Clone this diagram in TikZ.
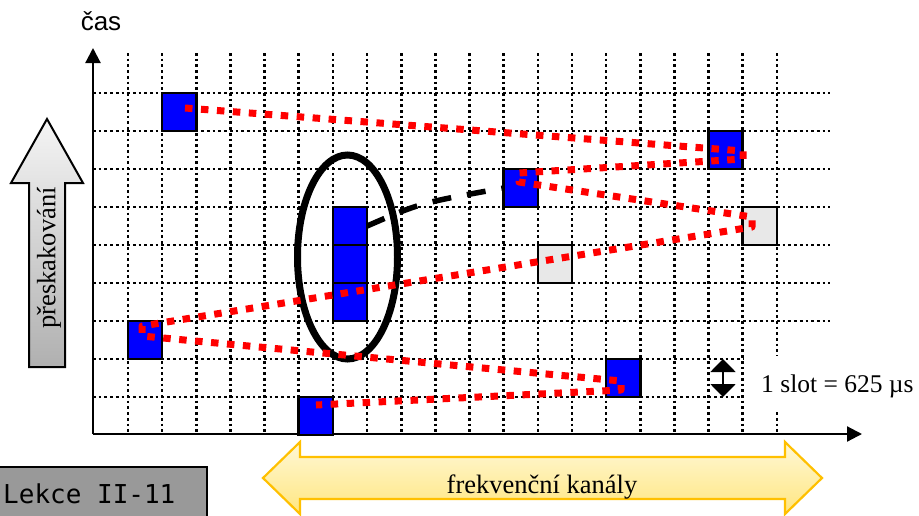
\documentclass[tikz,border=0pt]{standalone}
\usepackage{fontspec}
\setmainfont{Liberation Serif}
\newfontfamily\arialf{Liberation Sans}
\newfontfamily\monof{DejaVu Sans Mono}
\usetikzlibrary{arrows.meta}
\definecolor{cellgray}{HTML}{E8E8E8}
\definecolor{boxgray}{HTML}{999999}
\definecolor{arrowgold}{HTML}{FFC000}
\definecolor{ylight}{HTML}{FFF8D6}
\definecolor{ydark}{HTML}{FFE680}
\tikzset{
  griddot/.style={line width=2.6pt, dash pattern=on 2.7pt off 3pt},
  cellbox/.style={draw=black, line width=2.6pt, fill=blue, minimum width=34.15pt,
    minimum height=38pt, inner sep=0pt, outer sep=0pt, anchor=north west},
  graycell/.style={cellbox, fill=cellgray},
  hop/.style={draw=red, line width=7pt, dash pattern=on 7.5pt off 8.5pt, line join=round},
  axis/.style={line width=2.2pt, -{Triangle[length=15pt,width=15pt]}},
  bigtext/.style={font=\fontsize{26.5}{30}\selectfont, inner sep=0pt}
}
\begin{document}
\begin{tikzpicture}[x=1pt,y=-1pt]
\useasboundingbox (0,0) rectangle (919,515);
% grid
\foreach \i in {0,...,19} \draw[griddot] ({128+34.15*\i},53) -- ({128+34.15*\i},433);
\foreach \j in {0,...,8} \draw[griddot] (93,{93+38*\j}) -- (830,{93+38*\j});
% label box for slot
\fill[white] (743.5,356) rectangle (925,411);
% axes
\coordinate (o) at (93,434);
\coordinate (ytip) at (93,48);
\coordinate (xtip) at (862,434);
\draw[axis] (o) -- (ytip);
\draw[axis] (o) -- (xtip);
% cells
\node[cellbox] (A) at ({128+34.15*1},93) {};
\node[cellbox] (B) at ({128+34.15*17},131) {};
\node[cellbox] (C) at ({128+34.15*11},169) {};
\node[graycell] (D) at ({128+34.15*18},207) {};
\node[graycell] (E) at ({128+34.15*12},245) {};
\node[cellbox] (F1) at ({128+34.15*6},207) {};
\node[cellbox] (F2) at ({128+34.15*6},245) {};
\node[cellbox] (F3) at ({128+34.15*6},283) {};
\node[cellbox] (G) at ({128+34.15*0},321) {};
\node[cellbox] (H) at ({128+34.15*14},359) {};
\node[cellbox] (I) at ({128+34.15*5},397) {};
% ellipse
\draw[line width=7pt] (347.5,257) ellipse [x radius=50, y radius=102];
% dashed link
\draw[line width=5.5pt, dash pattern=on 19pt off 16pt] (F1.east) .. controls (420,203) .. (C.west);
% hopping path
\coordinate (a0) at (185,108);
\coordinate (b1) at (743,151);
\coordinate (b2) at (743,159);
\coordinate (c1) at (519,173);
\coordinate (c2) at (519,182);
\coordinate (d1) at (752,217);
\coordinate (d2) at (752,227);
\coordinate (g1) at (142,326);
\coordinate (g2) at (142,336);
\coordinate (h1) at (621,381);
\coordinate (h2) at (621,390);
\coordinate (i0) at (316,405);
\draw[hop] (a0) -- (b1) -- (b2) -- (c1) -- (c2) -- (d1) -- (d2) -- (g1) -- (g2) -- (h1) -- (h2) -- (i0);
% time label
\node[font=\arialf\fontsize{26}{30}\selectfont, anchor=base, inner sep=0pt] (cas) at (101,30) {čas};
% hopping arrow
\draw[line width=2pt, top color=gray!8, bottom color=gray!62]
  (47,119) -- (83,183) -- (65,183) -- (65,367) -- (29,367) -- (29,183) -- (11,183) -- cycle;
\node[bigtext, rotate=90] (hoptext) at (49,258) {přeskakování};
% frequency arrow
\draw[line width=2.2pt, draw=arrowgold, top color=ylight, bottom color=ydark]
  (263,478) -- (300,442) -- (300,457) -- (785,457) -- (785,442) -- (822,478)
  -- (785,514) -- (785,499) -- (300,499) -- (300,514) -- cycle;
\node[bigtext, anchor=base] (freq) at (542,493) {frekvenční kanály};
% slot marker
\coordinate (s1) at (723,359);
\coordinate (s2) at (723,397);
\draw[line width=2pt, {Triangle[length=13pt,width=25pt]}-{Triangle[length=13pt,width=25pt]}] (s1) -- (s2);
\node[font=\fontsize{25.5}{30}\selectfont, inner sep=0pt, anchor=base west] (slot) at (761,392) {1 slot = 625 µs};
% lesson box
\draw[line width=2pt, fill=boxgray] (-5,467) rectangle (207,530);
\node[font=\monof\fontsize{26}{30}\selectfont, anchor=base west, inner sep=0pt] (lekce) at (3,503) {Lekce II-11};
\end{tikzpicture}
\end{document}
